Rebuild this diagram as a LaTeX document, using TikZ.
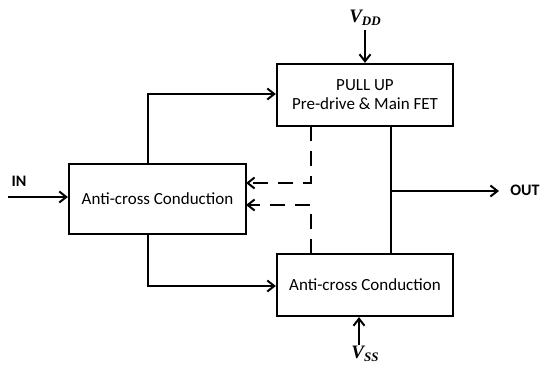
\documentclass[tikz,border=0pt]{standalone}
\usepackage{fontspec}
\setmainfont{Carlito}
\newfontfamily\vfont{Liberation Serif}
\usetikzlibrary{arrows.meta}
\begin{document}
\begin{tikzpicture}[x=1pt,y=-1pt,
  blk/.style={draw,line width=2.2pt,fill=white,inner sep=0pt,font=\fontsize{17}{20}\selectfont,align=center},
  wire/.style={line width=2pt},
  arr/.style={wire,-{Straight Barb[length=7pt,width=11pt,line width=2pt]}},
  darr/.style={arr,dash pattern=on 15pt off 10pt},
  pin/.style={font=\fontsize{16}{18}\selectfont\bfseries},
  vlab/.style={font=\vfont\bfseries\itshape\fontsize{19}{20}\selectfont}]
\useasboundingbox (0,0) rectangle (540,371);
\node[blk,minimum width=176pt,minimum height=62pt] (pu) at (365,95) {PULL UP\\[-1pt]Pre-drive \& Main FET};
\node[blk,minimum width=177pt,minimum height=70pt] (ac) at (157.5,199) {Anti-cross Conduction};
\node[blk,minimum width=176pt,minimum height=62pt] (pd) at (365,285) {Anti-cross Conduction};
\node[vlab] (vdd) at (365,18) {V\raisebox{-0.35ex}{\fontsize{13}{13}\selectfont DD}};
\node[vlab] (vss) at (365,354) {V\raisebox{-0.35ex}{\fontsize{13}{13}\selectfont SS}};
\node[pin] (in) at (19,181) {IN};
\node[pin] (out) at (525,190) {OUT};
\coordinate (vddt) at (365,30);
\coordinate (vssb) at (359,345);
\coordinate (inL) at (8,197);
\coordinate (outR) at (499,191);
\coordinate (tap) at (391,191);
\draw[arr] (vddt) -- (pu.north);
\draw[arr] (vssb) -- (vssb |- pd.south);
\draw[arr] (inL) -- (inL -| ac.west);
\draw[arr] (148,164) |- (pu.west |- 0,94);
\draw[arr] (148,234) |- (pd.west |- 0,286);
\draw[wire] (391,126) -- (391,254);
\draw[arr] (tap) -- (outR);
\draw[darr] (311,126) -- (311,183) -- (246,183);
\draw[darr] (311,254) -- (311,205) -- (246,205);
\end{tikzpicture}
\end{document}
